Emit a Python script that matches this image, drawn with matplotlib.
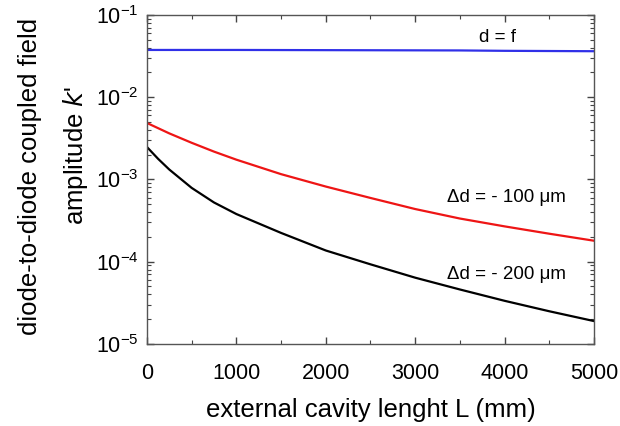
import matplotlib
matplotlib.use('Agg')
import matplotlib.pyplot as plt
from matplotlib.ticker import LogLocator, MultipleLocator, NullFormatter

plt.rcParams['font.family'] = ['Liberation Sans', 'DejaVu Sans']

# valeurs
L_mm = [0, 125, 250, 500, 750, 1000, 1500, 2000, 2500, 3000, 3500, 4000, 4500, 5000]
k_df = [0.0375, 0.0375, 0.0375, 0.0375, 0.0375, 0.0375, 0.0374, 0.0373, 0.0372, 0.0371, 0.0370, 0.0366, 0.0364, 0.0362]
k_100 = [4.86e-3, 4.2e-3, 3.63e-3, 2.79e-3, 2.18e-3, 1.74e-3, 1.16e-3, 8.2e-4, 5.96e-4, 4.37e-4, 3.35e-4, 2.69e-4, 2.19e-4, 1.8e-4]
k_200 = [2.48e-3, 1.78e-3, 1.32e-3, 7.9e-4, 5.25e-4, 3.8e-4, 2.24e-4, 1.37e-4, 9.3e-5, 6.4e-5, 4.6e-5, 3.35e-5, 2.5e-5, 1.9e-5]

x_ticks = [0, 1000, 2000, 3000, 4000, 5000]

fig = plt.figure(figsize=(6.2, 4.26), dpi=100)
ax = fig.add_axes([0.237, 0.1925, 0.721, 0.7725])

ax.plot(L_mm, k_df, color='#3030e8', lw=1.6)
ax.plot(L_mm, k_100, color='#ee1515', lw=1.6)
ax.plot(L_mm, k_200, color='black', lw=1.6)

ax.set_yscale('log')
ax.set_xlim(0, 5000)
ax.set_ylim(1e-5, 1e-1)
ax.set_xticks(x_ticks)
ax.xaxis.set_minor_locator(MultipleLocator(500))
ax.yaxis.set_major_locator(LogLocator(base=10, numticks=10))
ax.yaxis.set_minor_locator(LogLocator(base=10, subs=range(2, 10), numticks=20))
ax.yaxis.set_minor_formatter(NullFormatter())

ax.tick_params(which='both', direction='in', top=True, right=True, colors='#444444',
               labelcolor='black', labelsize=15.5)
ax.tick_params(which='major', length=5, width=1)
ax.tick_params(which='minor', length=3, width=0.8)
ax.tick_params(axis='x', pad=14)
ax.tick_params(axis='y', pad=6)
for s in ax.spines.values():
    s.set_color('#555555')
    s.set_linewidth(1)

ax.text(0.785, 0.93, 'd = f', transform=ax.transAxes, ha='center', va='center', fontsize=13.5)
ax.text(0.805, 0.445, 'Δd = - 100 μm', transform=ax.transAxes, ha='center', va='center', fontsize=13.5)
ax.text(0.805, 0.21, 'Δd = - 200 μm', transform=ax.transAxes, ha='center', va='center', fontsize=13.5)

ax.set_xlabel('external cavity lenght L (mm)', fontsize=18.5, labelpad=10)
fig.text(0.048, 0.585, 'diode-to-diode coupled field', rotation=90, ha='center', va='center', fontsize=18.5)
fig.text(0.122, 0.636, "amplitude $\\it{k}$'", rotation=90, ha='center', va='center', fontsize=18.5)

fig.savefig('out.png', dpi=100)
